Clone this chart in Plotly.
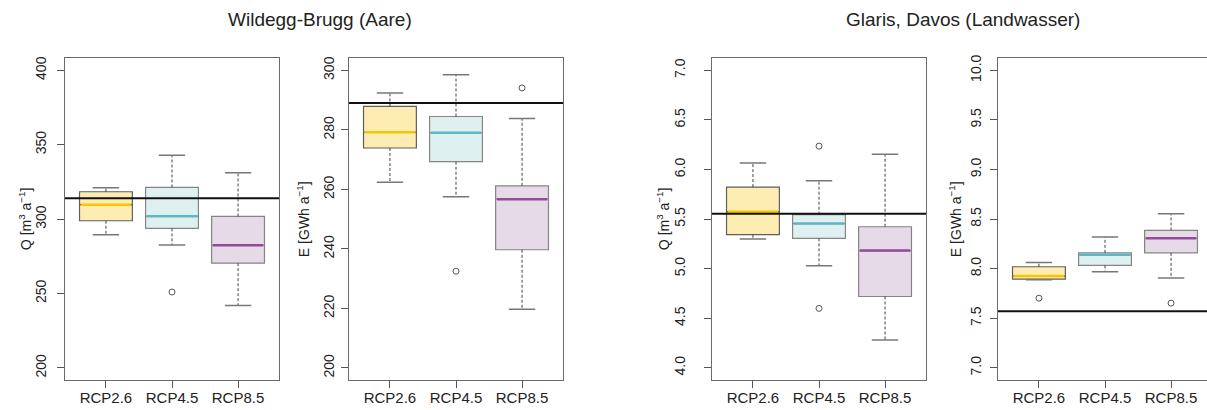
import plotly.graph_objects as go

W, H = 1207, 410

# ---------------- data ----------------
scenarios = ["RCP2.6", "RCP4.5", "RCP8.5"]
positions = [1, 2, 3]

# Panel 1: Wildegg-Brugg (Aare), discharge Q [m3 a-1]
wb_q_lower = [289.5, 282.6, 242.0]
wb_q_q1 = [298.9, 293.8, 270.4]
wb_q_median = [309.7, 302.0, 282.4]
wb_q_q3 = [318.4, 321.3, 301.8]
wb_q_upper = [321.1, 342.9, 331.1]
wb_q_out_pos = [2]
wb_q_out_val = [251.0]
wb_q_ref = 314.0
wb_q_ticks = [200, 250, 300, 350, 400]

# Panel 2: Wildegg-Brugg (Aare), energy E [GWh a-1]
wb_e_lower = [262.4, 257.5, 219.7]
wb_e_q1 = [273.9, 269.3, 239.7]
wb_e_median = [279.2, 279.0, 256.7]
wb_e_q3 = [287.9, 284.5, 261.2]
wb_e_upper = [292.4, 298.5, 283.8]
wb_e_out_pos = [2, 3]
wb_e_out_val = [232.5, 294.1]
wb_e_ref = 289.0
wb_e_ticks = [200, 220, 240, 260, 280, 300]

# Panel 3: Glaris, Davos (Landwasser), discharge Q
gd_q_lower = [5.30, 5.03, 4.28]
gd_q_q1 = [5.343, 5.306, 4.72]
gd_q_median = [5.575, 5.455, 5.183]
gd_q_q3 = [5.823, 5.545, 5.423]
gd_q_upper = [6.066, 5.886, 6.153]
gd_q_out_pos = [2, 2]
gd_q_out_val = [6.236, 4.60]
gd_q_ref = 5.553
gd_q_ticks = [4.0, 4.5, 5.0, 5.5, 6.0, 6.5, 7.0]

# Panel 4: Glaris, Davos (Landwasser), energy E
gd_e_lower = [7.89, 7.97, 7.906]
gd_e_q1 = [7.896, 8.033, 8.16]
gd_e_median = [7.926, 8.14, 8.306]
gd_e_q3 = [8.02, 8.16, 8.386]
gd_e_upper = [8.063, 8.32, 8.553]
gd_e_out_pos = [1, 3]
gd_e_out_val = [7.703, 7.653]
gd_e_ref = 7.57
gd_e_ticks = [7.0, 7.5, 8.0, 8.5, 9.0, 9.5, 10.0]

# ---------------- style ----------------
FONT = "Liberation Sans, Arial, Helvetica, sans-serif"
fills = ["#FEEDB3", "#DFF0F1", "#E6D9E8"]
medians = ["#F7C600", "#5FB6C6", "#914B98"]
borders = ["#5e5e5e", "#858585", "#858585"]
BOXW = 0.8
CAPW = 0.4

panels = [
    dict(lower=wb_q_lower, q1=wb_q_q1, med=wb_q_median, q3=wb_q_q3, upper=wb_q_upper,
         out_pos=wb_q_out_pos, out_val=wb_q_out_val, ref=wb_q_ref, ticks=wb_q_ticks,
         rng=[192, 408], fmt="d", title="Q [m<sup>3</sup> a<sup>−1</sup>]"),
    dict(lower=wb_e_lower, q1=wb_e_q1, med=wb_e_median, q3=wb_e_q3, upper=wb_e_upper,
         out_pos=wb_e_out_pos, out_val=wb_e_out_val, ref=wb_e_ref, ticks=wb_e_ticks,
         rng=[196, 304], fmt="d", title="E [GWh a<sup>−1</sup>]"),
    dict(lower=gd_q_lower, q1=gd_q_q1, med=gd_q_median, q3=gd_q_q3, upper=gd_q_upper,
         out_pos=gd_q_out_pos, out_val=gd_q_out_val, ref=gd_q_ref, ticks=gd_q_ticks,
         rng=[3.88, 7.12], fmt=".1f", title="Q [m<sup>3</sup> a<sup>−1</sup>]"),
    dict(lower=gd_e_lower, q1=gd_e_q1, med=gd_e_median, q3=gd_e_q3, upper=gd_e_upper,
         out_pos=gd_e_out_pos, out_val=gd_e_out_val, ref=gd_e_ref, ticks=gd_e_ticks,
         rng=[6.88, 10.12], fmt=".1f", title="E [GWh a<sup>−1</sup>]"),
]

# pixel layout of the four plotting regions
lefts = [65, 349, 712, 998]
PW = 214
TOP, BOT = 55, 379.5
label_standoff = [5, 1, 13, 3]
title_off = [40, 46, 49, 43]
XR = [0.38, 3.62]

fig = go.Figure()
layout = dict(
    width=W, height=H, margin=dict(l=0, r=0, t=0, b=0),
    paper_bgcolor="white", plot_bgcolor="white",
    font=dict(family=FONT, size=14, color="#222"),
    showlegend=False,
)
annotations = []
shapes = []

for i, p in enumerate(panels):
    k = "" if i == 0 else str(i + 1)
    xa, ya = "x" + k, "y" + k
    left = lefts[i]
    right = min(left + PW, W)
    xmax = XR[0] + (XR[1] - XR[0]) * (right - left) / PW
    layout["xaxis" + k] = dict(
        domain=[left / W, right / W], range=[XR[0], xmax], anchor=ya,
        tickmode="array", tickvals=positions, ticktext=scenarios,
        ticks="outside", ticklen=7, tickcolor="#555", tickwidth=1,
        ticklabelstandoff=-3,
        showline=True, linecolor="#6a6a6a", linewidth=1, mirror=True,
        showgrid=False, zeroline=False, fixedrange=True,
        tickfont=dict(size=15, color="#222"),
    )
    layout["yaxis" + k] = dict(
        domain=[(H - BOT) / H, (H - TOP) / H], range=p["rng"], anchor=xa,
        tickmode="array", tickvals=p["ticks"],
        ticktext=[format(t, p["fmt"]) if p["fmt"] != "d" else str(int(t)) for t in p["ticks"]],
        tickangle=-90, ticks="outside", ticklen=7, tickcolor="#555", tickwidth=1,
        ticklabelstandoff=label_standoff[i],
        showline=True, linecolor="#6a6a6a", linewidth=1, mirror=(i != 3),
        showgrid=False, zeroline=False, fixedrange=True,
        tickfont=dict(size=14, color="#222"),
    )
    for j in range(3):
        pos = positions[j]
        fig.add_trace(go.Box(
            x=[pos], q1=[p["q1"][j]], median=[p["med"][j]], q3=[p["q3"][j]],
            lowerfence=[p["q1"][j]], upperfence=[p["q3"][j]],
            width=BOXW, whiskerwidth=0, boxpoints=False,
            fillcolor=fills[j], line=dict(color=borders[j], width=1.2),
            xaxis=xa, yaxis=ya, hoverinfo="skip",
        ))
    for j in range(3):
        pos = positions[j]
        # dashed whiskers
        fig.add_trace(go.Scatter(
            x=[pos, pos, None, pos, pos],
            y=[p["q3"][j], p["upper"][j], None, p["q1"][j], p["lower"][j]],
            mode="lines", line=dict(color="#444", width=1, dash="3px,2px"),
            xaxis=xa, yaxis=ya, hoverinfo="skip",
        ))
        # caps
        fig.add_trace(go.Scatter(
            x=[pos - CAPW / 2, pos + CAPW / 2, None, pos - CAPW / 2, pos + CAPW / 2],
            y=[p["upper"][j], p["upper"][j], None, p["lower"][j], p["lower"][j]],
            mode="lines", line=dict(color="#777", width=1.5),
            xaxis=xa, yaxis=ya, hoverinfo="skip",
        ))
        # coloured median
        fig.add_trace(go.Scatter(
            x=[pos - BOXW / 2 + 0.02, pos + BOXW / 2 - 0.02],
            y=[p["med"][j], p["med"][j]],
            mode="lines", line=dict(color=medians[j], width=2.5),
            xaxis=xa, yaxis=ya, hoverinfo="skip",
        ))
    # outliers
    fig.add_trace(go.Scatter(
        x=p["out_pos"], y=p["out_val"], mode="markers",
        marker=dict(symbol="circle-open", size=6, color="#555", line=dict(width=1)),
        xaxis=xa, yaxis=ya, hoverinfo="skip",
    ))
    # reference line
    shapes.append(dict(
        type="line", xref=xa + " domain", yref=ya, x0=0, x1=1,
        y0=p["ref"], y1=p["ref"], line=dict(color="#111", width=2), layer="above",
    ))
    # y axis title
    annotations.append(dict(
        text=p["title"], xref="paper", yref="paper",
        x=(left - title_off[i]) / W, y=(H - (TOP + BOT) / 2) / H,
        xanchor="center", yanchor="middle", textangle=-90, showarrow=False,
        font=dict(size=14, color="#222"),
    ))

annotations.append(dict(text="Wildegg-Brugg (Aare)", xref="paper", yref="paper",
                        x=320 / W, y=(H - 16) / H, xanchor="center", yanchor="middle",
                        showarrow=False, font=dict(size=19, color="#222")))
annotations.append(dict(text="Glaris, Davos (Landwasser)", xref="paper", yref="paper",
                        x=963 / W, y=(H - 16) / H, xanchor="center", yanchor="middle",
                        showarrow=False, font=dict(size=19, color="#222")))

layout["annotations"] = annotations
layout["shapes"] = shapes
fig.update_layout(**layout)
fig.write_html("out.html", config=dict(displayModeBar=False))
